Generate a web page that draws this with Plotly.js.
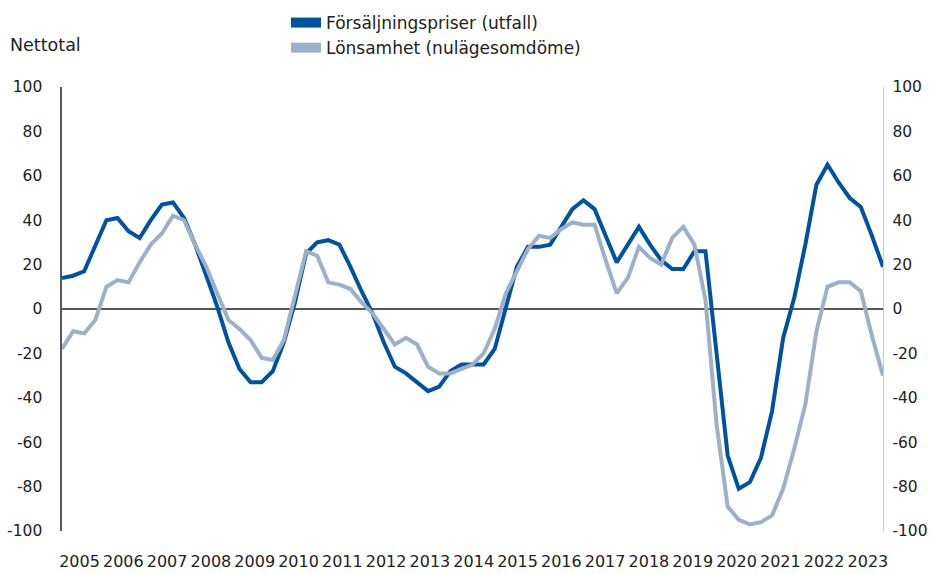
<!DOCTYPE html>
<html><head><meta charset="utf-8">
<script src="https://cdn.plot.ly/plotly-3.0.1.min.js"></script>
<style>html,body{margin:0;padding:0;background:#fff}#chart{width:932px;height:574px}</style>
</head><body><div id="chart"></div>
<script>
const years = [2005,2006,2007,2008,2009,2010,2011,2012,2013,2014,2015,2016,2017,2018,2019,2020,2021,2022,2023];
const quarters = [];
years.forEach(y => { for (let q = 1; q <= 4; q++) { if (!(y === 2023 && q === 4)) quarters.push(y + ' K' + q); } });

const seriesNames = ['Försäljningspriser (utfall)', 'Lönsamhet (nulägesomdöme)'];
const forsaljningspriser = [
  14,15,17,28, 40,41,35,32, 40,47,48,41, 29,15,1,-15,
  -27,-33,-33,-28, -15,3,25,30, 31,29,19,8, -2,-15,-26,-29,
  -33,-37,-35,-28, -25,-25,-25,-18, 1,19,28,28, 29,37,45,49,
  45,33,21,29, 37,29,22,18, 18,26,26,-20, -66,-81,-78,-67,
  -46,-13,5,29, 56,65,57,50, 46,33,19
];
const lonsamhet = [
  -18,-10,-11,-5, 10,13,12,21, 29,34,42,40, 29,19,7,-5,
  -9,-14,-22,-23, -14,6,26,24, 12,11,9,3, -2,-9,-16,-13,
  -16,-26,-29,-29, -27,-25,-20,-9, 7,17,27,33, 32,36,39,38,
  38,22,7,14, 28,23,20,32, 37,29,4,-52, -89,-95,-97,-96,
  -93,-81,-63,-43, -10,10,12,12, 8,-12,-30
];
const yTicks = [-100,-80,-60,-40,-20,0,20,40,60,80,100];
const colors = ['#0052a0', '#9eb0c8'];

const FONT = '"DejaVu Sans", "Open Sans", sans-serif';
const TXT = '#222222';

const traces = [
  {type:'scatter', mode:'lines', x:quarters, y:forsaljningspriser, xaxis:'x2', yaxis:'y',
   line:{color:colors[0], width:4}, showlegend:false, hoverinfo:'skip'},
  {type:'scatter', mode:'lines', x:quarters, y:lonsamhet, xaxis:'x2', yaxis:'y',
   line:{color:colors[1], width:4}, showlegend:false, hoverinfo:'skip'},
  {type:'scatter', mode:'lines', x:[null], y:[null], xaxis:'x', yaxis:'y2', name:seriesNames[0],
   line:{color:colors[0], width:11}},
  {type:'scatter', mode:'lines', x:[null], y:[null], xaxis:'x', yaxis:'y2', name:seriesNames[1],
   line:{color:colors[1], width:11}}
];

const layout = {
  width:932, height:574,
  margin:{l:62, r:49, t:87, b:43, pad:0, autoexpand:false},
  paper_bgcolor:'#ffffff', plot_bgcolor:'#ffffff',
  font:{family:FONT, size:16, color:TXT},
  title:{text:'Nettotal', xref:'container', yref:'container', x:10/932, xanchor:'left',
         y:1-45/574, yanchor:'middle', font:{family:FONT, size:17.5, color:TXT}},
  showlegend:true,
  legend:{xref:'container', yref:'container', x:286/932, xanchor:'left', y:1-5/574, yanchor:'top',
          orientation:'v', bgcolor:'rgba(0,0,0,0)', font:{family:FONT, size:17, color:TXT},
          tracegroupgap:0},
  xaxis:{type:'linear', range:[years[0], years[0] + 821/43.8], fixedrange:true,
         tickmode:'array', tickvals:years.map(y => y + 0.4), ticktext:years.map(String),
         tickangle:0, showgrid:false, zeroline:false, showline:false, ticks:'', ticklabelstandoff:19,
         tickfont:{family:FONT, size:16, color:TXT},
         minor:{tickmode:'array', tickvals:years.slice(1), showgrid:true, gridcolor:'#c8c8c8', gridwidth:1.3, ticks:''}},
  xaxis2:{type:'category', overlaying:'x', range:[0, quarters.length - 1], visible:false, fixedrange:true},
  yaxis:{range:[-100,100], tickmode:'array', tickvals:yTicks, ticktext:yTicks.map(String), fixedrange:true,
         showgrid:false, zeroline:true, zerolinecolor:'#555555', zerolinewidth:2,
         showline:true, linecolor:'#595959', linewidth:1.6, ticks:'', ticklabelstandoff:15,
         tickfont:{family:FONT, size:15.5, color:TXT}},
  yaxis2:{range:[-100,100], overlaying:'y', side:'right', anchor:'x', tickmode:'array', tickvals:yTicks,
          ticktext:yTicks.map(String), fixedrange:true, showgrid:false, zeroline:false,
          showline:true, linecolor:'#c8c8c8', linewidth:1.3, ticks:'', ticklabelstandoff:5,
          tickfont:{family:FONT, size:15.5, color:TXT}}
};

Plotly.newPlot('chart', traces, layout, {staticPlot:true, displayModeBar:false});
</script>
</body></html>
